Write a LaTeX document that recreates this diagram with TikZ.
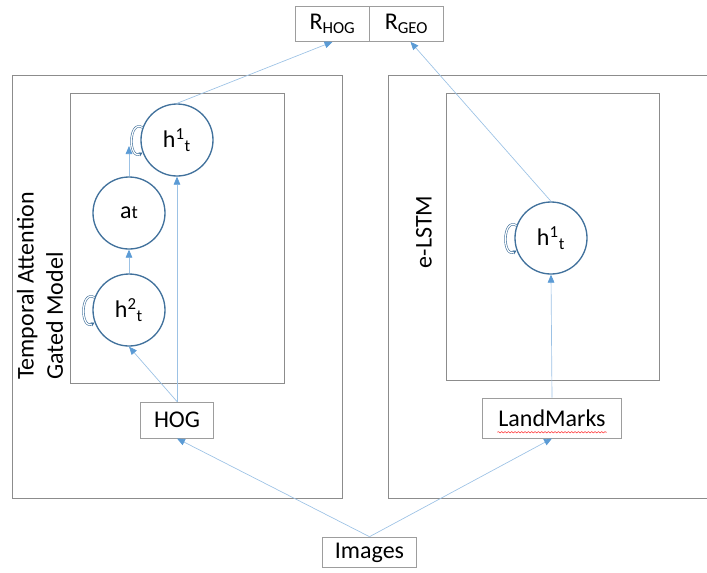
\documentclass[tikz,border=0pt]{standalone}
\usepackage{fontspec}
\setmainfont{Carlito}
\usetikzlibrary{arrows.meta}
\usetikzlibrary{decorations.pathmorphing}
\definecolor{cellblue}{HTML}{41719C}
\definecolor{linkblue}{HTML}{9CC2E5}
\definecolor{tipblue}{HTML}{5B9BD5}
\definecolor{framegray}{HTML}{8C8C8C}
\newcommand{\bigtext}{\fontsize{18}{22}\selectfont}
\newcommand{\hcell}[1]{h\textsuperscript{#1}\textsubscript{t}}
\tikzset{
  frame/.style={draw=framegray,line width=0.7pt},
  cell/.style={circle,draw=cellblue,line width=1pt,minimum size=54pt,inner sep=0pt,font=\bigtext},
  feat/.style={draw=framegray!85,fill=white,line width=0.7pt,inner sep=0pt,font=\bigtext},
  link/.style={draw=linkblue,line width=0.5pt,-{Triangle[length=6pt,width=5pt,color=tipblue,fill=tipblue]}},
  selfloop/.style={draw=cellblue,double=white,double distance=0.9pt,line width=0.45pt,-{Stealth[length=3pt,width=3pt]},looseness=1.7}
}
\begin{document}
\begin{tikzpicture}[x=0.75pt,y=-0.75pt]
\useasboundingbox (0,0) rectangle (707,572);
% model frames
\draw[frame] (12,75) rectangle (342,498);
\draw[frame] (70,93) rectangle (284,383);
\draw[frame] (707,75)--(388,75)--(388,498)--(707,498);
\draw[frame] (446,93) rectangle (659,380);
\node[rotate=90,align=left,font=\bigtext] (tagm) at (40,286) {Temporal Attention\\Gated Model};
\node[rotate=90,font=\bigtext] (elstm) at (424,232) {e-LSTM};
% recurrent cells
\node[cell] (h1a) at (177,140) {\hcell{1}};
\node[cell] (at) at (129,213) {a{\fontsize{14}{14}\selectfont t}};
\node[cell] (h2) at (129,310) {\hcell{2}};
\node[cell] (h1b) at (551,238) {\hcell{1}};
\coordinate (atop) at (129,146);
% inputs and outputs
\node[feat,minimum width=55pt,minimum height=27pt] (hog) at (177,420) {HOG};
\node[feat,minimum width=104pt,minimum height=30pt] (lmk) at (552,418) {LandMarks};
\node[feat,minimum width=71pt,minimum height=23pt] (img) at (369.5,552.5) {Images};
\node[feat,minimum width=55pt,minimum height=26pt] (rhog) at (332.5,24) {R\textsubscript{HOG}};
\node[feat,minimum width=56pt,minimum height=26pt] (rgeo) at (406.5,24) {R\textsubscript{GEO}};
\draw[red!80,line width=0.4pt,decorate,decoration={snake,amplitude=0.5pt,segment length=2.5pt}]
  ([xshift=-41pt,yshift=-4.5pt]lmk.base) -- ([xshift=41pt,yshift=-4.5pt]lmk.base);
% connections
\draw[link] (img.north) -- (hog.south);
\draw[link] (img.north) -- (lmk.south);
\draw[link] (hog.north) -- (h2.south);
\draw[link] (hog.north) -- (h1a.south);
\draw[link] (h2.north) -- (at.south);
\draw[link] (at.north) -- (atop);
\draw[link] (h1a.north) -- (rhog.south);
\draw[link] (lmk.north) -- (h1b.south);
\draw[link] (h1b.north) -- ([xshift=3pt]rgeo.south);
% self loops
\foreach \c in {h1a,h2,h1b}
  \draw[selfloop] (\c.160) to[out=150,in=210] (\c.200);
\end{tikzpicture}
\end{document}
